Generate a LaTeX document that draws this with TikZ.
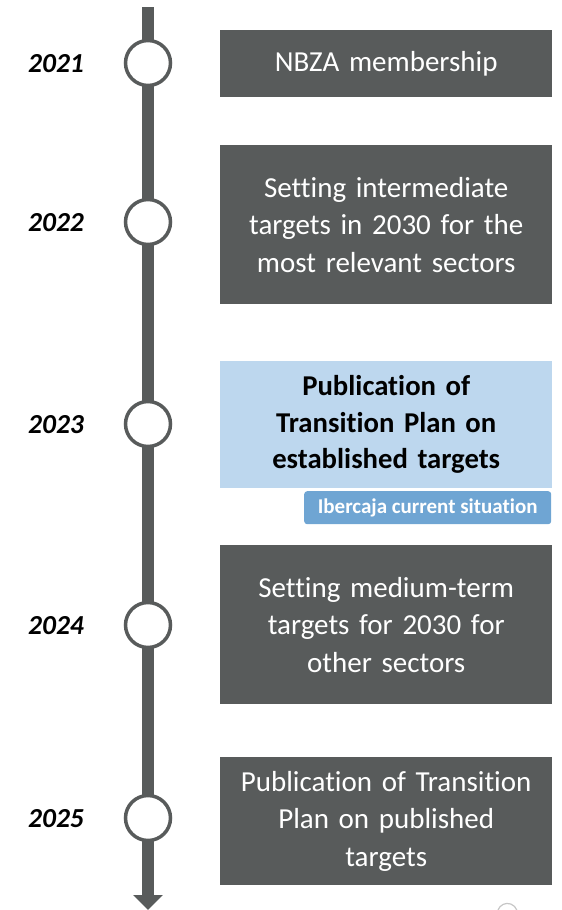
\documentclass[tikz,border=0pt]{standalone}
\usepackage{fontspec}
\setmainfont[Ligatures=NoCommon]{Carlito}
\usetikzlibrary{arrows.meta}
\definecolor{slate}{HTML}{585B5B}
\definecolor{paleblue}{HTML}{BDD7EE}
\definecolor{tagblue}{HTML}{6FA5D3}
\tikzset{
  axis/.style={draw=slate, line width=12pt, -{Triangle[width=29pt,length=15pt]}},
  milestone/.style={circle, draw=slate, line width=3.5pt, fill=white, minimum size=45pt, inner sep=0pt},
  year/.style={font=\fontsize{27.5}{30}\selectfont\bfseries\itshape, text=black},
  stepbox/.style={fill=slate, text=white, minimum width=332pt, inner sep=0pt, anchor=north west,
    text width=325pt, align=center, font=\fontsize{29}{37.5}\selectfont},
  keybox/.style={fill=paleblue, text=black, minimum width=332pt, inner sep=0pt, anchor=north west,
    text width=325pt, align=center, font=\fontsize{28.7}{36.5}\selectfont\bfseries},
  tag/.style={fill=tagblue, text=white, rounded corners=3pt, minimum width=247pt, minimum height=33pt,
    inner sep=0pt, anchor=north west, font=\fontsize{21}{24}\selectfont\bfseries}
}
\begin{document}
\begin{tikzpicture}[x=1pt,y=-1pt]
\useasboundingbox (0,0) rectangle (562,910);
% timeline axis
\coordinate (top) at (148,7);
\coordinate (bot) at (148,910);
\draw[axis] (top) -- (bot);
% milestones and years
\foreach \yr/\yy in {2021/63, 2022/222, 2023/424, 2024/625, 2025/818} {
  \node[milestone] (m\yr) at (148,\yy) {};
  \node[year] (y\yr) at (56,\yy+1) {\yr};
}
% steps
\node[stepbox, minimum height=67pt] (s1) at (220,30) {NBZA membership};
\node[stepbox, minimum height=159pt] (s2) at (220,145) {Setting intermediate\\targets in 2030 for the\\most relevant sectors};
\node[keybox, minimum height=127pt] (s3) at (220,361) {Publication of\\Transition Plan on\\established targets};
\node[tag] (t3) at (304,491) {Ibercaja current situation};
\node[stepbox, minimum height=159pt] (s4) at (220,545) {Setting medium-term\\targets for 2030 for\\other sectors};
\node[stepbox, minimum height=128pt] (s5) at (220,757) {Publication of Transition\\Plan on published\\targets};
% partial mark at the lower edge
\draw[gray!45, line width=1.2pt] (498,910) arc[start angle=160, end angle=20, radius=10pt];
\end{tikzpicture}
\end{document}
